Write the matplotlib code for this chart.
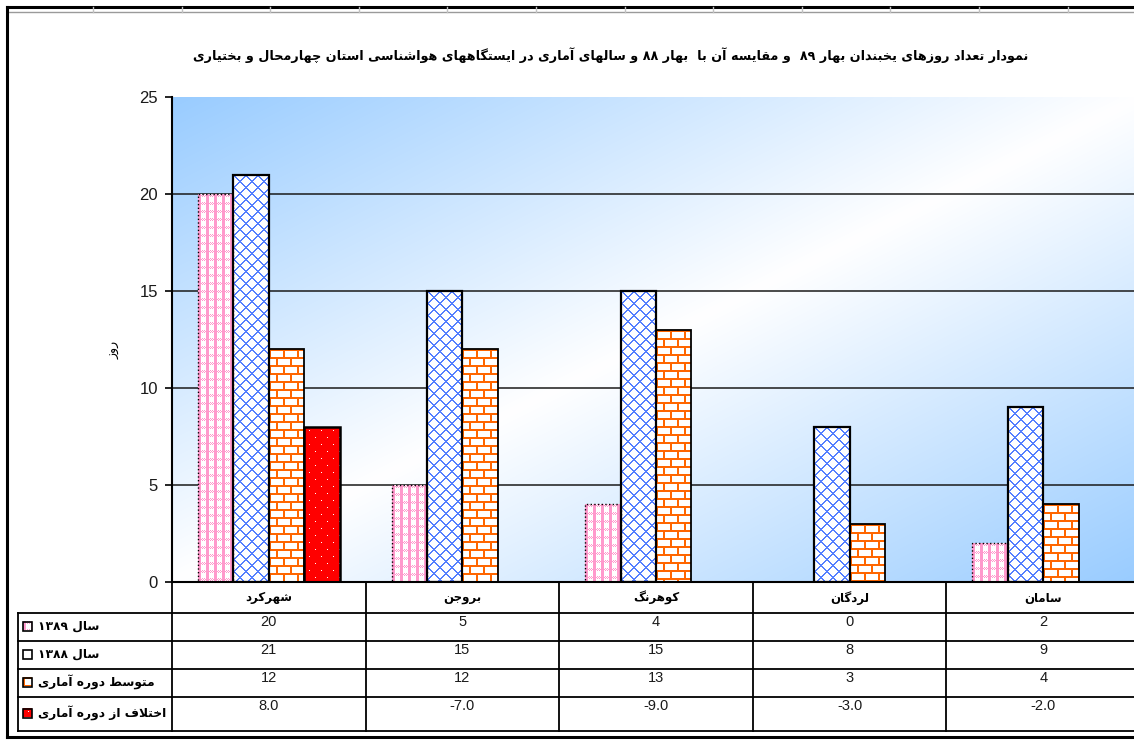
import re

import matplotlib.pyplot as plt
import numpy as np


stations = ['شهرکرد', 'بروجن', 'کوهرنگ', 'لردگان', 'سامان']
days_1389 = [20, 5, 4, 0, 2]
days_1388 = [21, 15, 15, 8, 9]
days_normal = [12, 12, 13, 3, 4]
days_anomaly = [8.0, -7.0, -9.0, -3.0, -2.0]
series_names = ['سال ۱۳۸۹', 'سال ۱۳۸۸', 'متوسط دوره آماری',
                'اختلاف از دوره آماری']
y_ticks = [0, 5, 10, 15, 20, 25]
title = ('نمودار تعداد روزهای یخبندان بهار ۸۹  و مقایسه آن با  بهار ۸۸ '
         'و سالهای آماری در ایستگاههای هواشناسی استان چهارمحال و بختیاری')
y_label = 'روز'

W, H = 1134, 740
FA = ['DejaVu Sans']
NUM = ['Liberation Sans', 'DejaVu Sans']

PINK = np.array([1.0, 0.6, 0.8])
BLUE = np.array([0.33, 0.5, 1.0])
ORANGE = np.array([1.0, 0.4, 0.0])
RED = np.array([1.0, 0.0, 0.0])
SKY = np.array([0.6, 0.8, 1.0])

# first presentation form (isolated) and number of forms for each letter
FORMS = {'ا': (0xFE8D, 2), 'آ': (0xFE81, 2), 'ب': (0xFE8F, 4),
         'ت': (0xFE95, 4), 'ج': (0xFE9D, 4), 'چ': (0xFB7A, 4),
         'ح': (0xFEA1, 4), 'خ': (0xFEA5, 4), 'د': (0xFEA9, 2),
         'ر': (0xFEAD, 2), 'ز': (0xFEAF, 2), 'س': (0xFEB1, 4),
         'ش': (0xFEB5, 4), 'ط': (0xFEC1, 4), 'ع': (0xFEC9, 4),
         'ف': (0xFED1, 4), 'ق': (0xFED5, 4), 'ک': (0xFB8E, 4),
         'گ': (0xFB92, 4), 'ل': (0xFEDD, 4), 'م': (0xFEE1, 4),
         'ن': (0xFEE5, 4), 'ه': (0xFEE9, 4), 'و': (0xFEED, 2),
         'ی': (0xFBFC, 4)}


def fa(text):
    """
    Join Persian letters into their contextual forms and put the string in
    visual (right to left) order, keeping digit runs left to right.
    """
    def dual(c):
        return c in FORMS and FORMS[c][1] == 4

    out = []
    i = 0
    while i < len(text):
        c = text[i]
        if c not in FORMS:
            out.append(c)
            i += 1
            continue
        link_prev = i > 0 and dual(text[i - 1])
        nxt = text[i + 1] if i + 1 < len(text) else ''
        if c == 'ل' and nxt in ('ا', 'آ') and nxt:
            base = 0xFEFB if nxt == 'ا' else 0xFEF5
            out.append(chr(base + link_prev))
            i += 2
            continue
        link_next = dual(c) and nxt in FORMS
        base = FORMS[c][0]
        if link_prev and link_next:
            k = 3
        elif link_prev:
            k = 1
        elif link_next:
            k = 2
        else:
            k = 0
        out.append(chr(base + k))
        i += 1
    vis = ''.join(out)[::-1]
    return re.sub(r'[0-9\u06F0-\u06F9]+', lambda m: m.group(0)[::-1], vis)


def texture(kind, w, h):
    """Pixel pattern used to fill one bar or legend key."""
    yy, xx = np.mgrid[0:h, 0:w]
    img = np.ones((h, w, 3))
    if kind == 'plaid':
        cols = (xx % 8) < 3
        rows = ((yy % 8) < 3) & ((xx + yy) % 2 == 0)
        img[cols | rows] = PINK
    elif kind == 'diamond':
        up, down = (xx + yy) % 12, (xx - yy) % 12
        img[(up < 2) | (down < 2)] = BLUE
    elif kind == 'brick':
        shift = np.where((yy // 8) % 2 == 0, 0, 7)
        m = ((yy % 8) < 2) | (((xx + shift) % 14) < 2)
        img[m] = ORANGE
    elif kind == 'dots':
        img[:] = RED
        shift = np.where((yy // 7) % 2 == 0, 0, 6)
        m = ((yy % 7) == 3) & (((xx + shift) % 12) == 5)
        img[m] = 1.0
    return img


def paint_bars(ax, groups):
    """
    Fill the bars with their textures on one transparent image that has a
    pixel for each screen pixel of the axes.
    """
    box = ax.get_window_extent()
    w, h = int(round(box.width)), int(round(box.height))
    canvas = np.zeros((h, w, 4))
    for bars, kind in groups:
        for rect in bars:
            x0, y0 = rect.get_xy()
            x1, y1 = x0 + rect.get_width(), y0 + rect.get_height()
            pts = ax.transData.transform([(x0, y0), (x1, y1)])
            pts = pts - [box.x0, box.y0]
            c0, c1 = sorted(int(round(v)) for v in pts[:, 0])
            r0, r1 = sorted(h - int(round(v)) for v in pts[:, 1])
            c0, c1 = max(c0, 0), min(c1, w)
            r0, r1 = max(r0, 0), min(r1, h)
            if c1 <= c0 or r1 <= r0:
                continue
            canvas[r0:r1, c0:c1, :3] = texture(kind, c1 - c0, r1 - r0)
            canvas[r0:r1, c0:c1, 3] = 1.0
    ax.imshow(canvas, extent=(*ax.get_xlim(), *ax.get_ylim()),
              aspect='auto', interpolation='nearest', zorder=2)


fig = plt.figure(figsize=(W / 100, H / 100), dpi=100)
fig.patch.set_facecolor('white')

left, right, top, bottom = 172, 1140, 97, 582
ax = fig.add_axes([left / W, (H - bottom) / H, (right - left) / W,
                   (bottom - top) / H])
ax.set_xlim(0, len(stations))
ax.set_ylim(0, 25)

# diagonal blue - white - blue background of the plot area
r, c = np.mgrid[0:1:200j, 0:1:300j]
s = np.abs((r + c) / 2 - 0.5) * 2
grad = (1 - s)[..., None] * 1.0 + s[..., None] * SKY
ax.imshow(grad, extent=(0, len(stations), 0, 25), aspect='auto', zorder=0,
          interpolation='bilinear')

series = [days_1389, days_1388, days_normal, days_anomaly]
kinds = ['plaid', 'diamond', 'brick', 'dots']
edge_ls = [':', '-', '-', '-']
edge_lw = [1.0, 1.6, 1.3, 1.8]
x = np.arange(len(stations)) + 0.5
bw = 0.183
groups = []
for k, vals in enumerate(series):
    pos = x + (k - 1.5) * bw
    bars = ax.bar(pos, vals, bw, color='none', edgecolor='black',
                  linestyle=edge_ls[k], linewidth=edge_lw[k], zorder=3)
    groups.append((bars, kinds[k]))

ax.set_xlim(0, len(stations))
ax.set_ylim(0, 25)
paint_bars(ax, groups)
ax.set_xlim(0, len(stations))
ax.set_ylim(0, 25)

ax.set_xticks([])
ax.set_yticks(y_ticks)
ax.set_yticklabels([str(t) for t in y_ticks], fontsize=12, family=NUM,
                   color='#1a1a1a')
ax.tick_params(axis='y', direction='out', length=5, width=1.2, pad=5,
               color='black')
ax.yaxis.grid(True, color='#1a1a1a', linewidth=1.1)
ax.set_axisbelow(True)
ax.get_ygridlines()[-1].set_visible(False)
for side in ('top', 'right'):
    ax.spines[side].set_visible(False)
for side in ('left', 'bottom'):
    ax.spines[side].set_linewidth(1.5)
    ax.spines[side].set_color('black')

# overlay in pixel units for the frame, titles and data table
ov = fig.add_axes([0, 0, 1, 1])
ov.set_xlim(0, W)
ov.set_ylim(H, 0)
ov.axis('off')

ov.plot([7, W], [7, 7], color='black', lw=2.2)
ov.plot([7, W], [12, 12], color='#9a9a9a', lw=1)
for gx in np.arange(93, W, 88.6):
    ov.plot([gx, gx], [7, 12], color='#c0c0c0', lw=1)
ov.plot([7, 7], [7, 737], color='black', lw=2.2)
ov.plot([7, W], [737, 737], color='black', lw=2.2)

ov.text(611, 55, fa(title), ha='center', va='center', fontsize=9.2,
        fontweight='bold', family=FA)
ov.text(114, 350, fa(y_label), ha='center', va='center', rotation=90,
        fontsize=9, family=FA)

edges = ax.transData.transform([(i, 0) for i in range(len(stations) + 1)])
col_x = edges[:, 0]
axis_y = H - edges[0, 1]
row_y = [613, 641, 669, 697, 731]

for cx in col_x:
    ov.plot([cx, cx], [axis_y, row_y[-1]], color='black', lw=1.3)
ov.plot([18, 18], [row_y[0], row_y[-1]], color='black', lw=1.3)
for ry in row_y:
    ov.plot([18, W], [ry, ry], color='black', lw=1.3)

for i, name in enumerate(stations):
    ov.text((col_x[i] + col_x[i + 1]) / 2, 598, fa(name), ha='center',
            va='center', fontsize=8.5, fontweight='bold', family=FA)

for k, vals in enumerate(series):
    for i, v in enumerate(vals):
        txt = '%.1f' % v if k == 3 else '%d' % v
        ov.text((col_x[i] + col_x[i + 1]) / 2, row_y[k] + 9, txt,
                ha='center', va='center', fontsize=10.5, family=NUM,
                color='#1a1a1a')
    yc = (row_y[k] + row_y[k + 1]) / 2 - 1
    key = texture(kinds[k], 9, 9) if k != 1 else np.ones((9, 9, 3))
    ov.imshow(key, extent=(23, 32, yc + 4.5, yc - 4.5),
              interpolation='nearest', aspect='auto', zorder=2)
    ov.add_patch(plt.Rectangle((23, yc - 4.5), 9, 9, fill=False,
                               edgecolor='black', lw=1.2, zorder=3))
    ov.text(38, yc, fa(series_names[k]), ha='left', va='center',
            fontsize=8.8, fontweight='bold', family=FA)

ov.set_xlim(0, W)
ov.set_ylim(H, 0)

fig.savefig('out.png', dpi=100)
